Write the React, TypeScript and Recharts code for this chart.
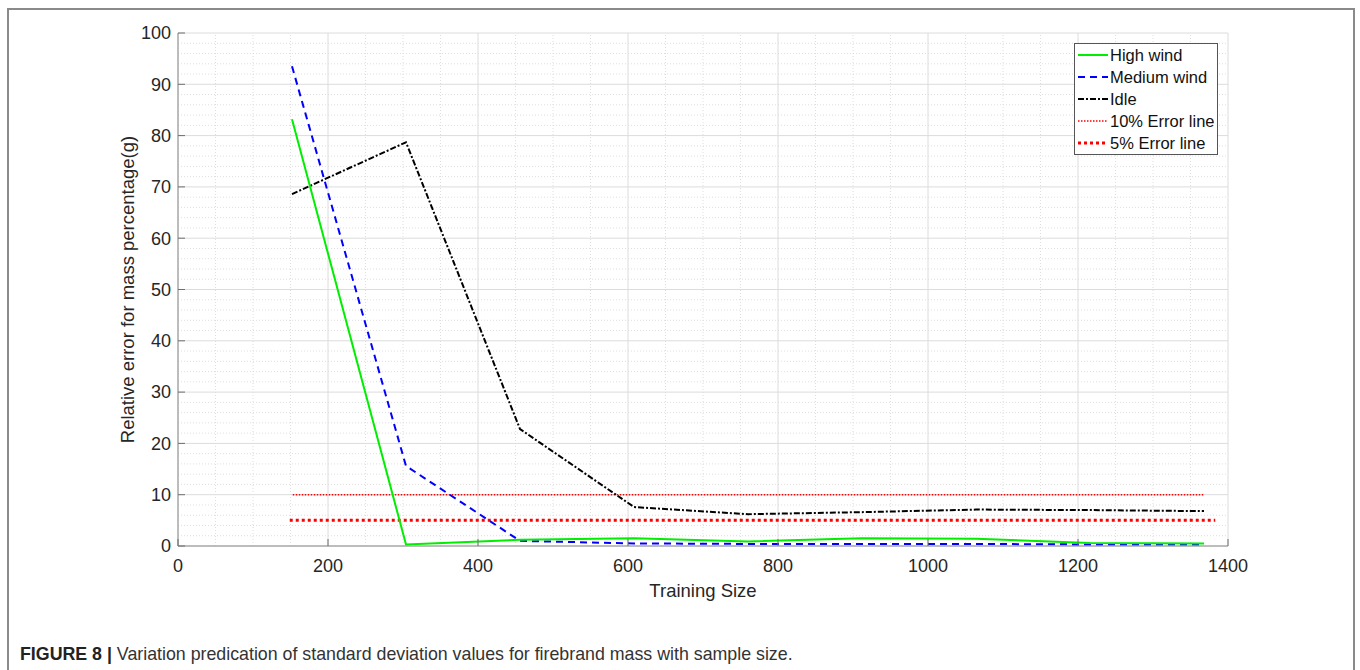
import React from 'react'
import { LineChart, Line, XAxis, YAxis, CartesianGrid, ReferenceLine, Legend } from 'recharts'

// training sizes (x) and relative errors (%)
const trainingSize = [152, 304, 456, 608, 760, 912, 1064, 1216, 1368]
const highWind = [83.2, 0.3, 1.2, 1.5, 0.9, 1.5, 1.4, 0.6, 0.5]
const mediumWind = [93.5, 15.6, 1.0, 0.5, 0.4, 0.4, 0.4, 0.3, 0.3]
const idle = [68.6, 78.7, 22.8, 7.6, 6.2, 6.6, 7.1, 7.0, 6.8]

const tenPctX = [153, 1368]
const tenPctY = [10, 10]
const fivePctX = [149, 1383]
const fivePctY = [5, 5]

const xTicks = [0, 200, 400, 600, 800, 1000, 1200, 1400]
const yTicks = [0, 10, 20, 30, 40, 50, 60, 70, 80, 90, 100]
const minorX = Array.from({ length: 29 }, (_, i) => i * 50).filter((v) => v % 200 !== 0)
const minorY = Array.from({ length: 51 }, (_, i) => i * 2).filter((v) => v % 10 !== 0)

const rows = trainingSize.map((x, i) => ({ x, high: highWind[i], medium: mediumWind[i], idle: idle[i] }))
const tenRows = tenPctX.map((x, i) => ({ x, y: tenPctY[i] }))
const fiveRows = fivePctX.map((x, i) => ({ x, y: fivePctY[i] }))

const series = [
  { name: 'High wind', color: '#00ee00', dash: undefined, width: 2 },
  { name: 'Medium wind', color: '#0000ff', dash: '7 5', width: 2 },
  { name: 'Idle', color: '#000000', dash: '6 2 2 2', width: 2 },
  { name: '10% Error line', color: '#ff0000', dash: '1.5 1.5', width: 1.5 },
  { name: '5% Error line', color: '#ff0000', dash: '3 3', width: 3 },
]

const FONT = '"Liberation Sans", Arial, Helvetica, sans-serif'
const TEXT = '#262626'
const AXIS = '#8c8c8c'
const TICK = '#6e6e6e'

const BottomTick = (p: any) => (
  <g>
    <line x1={p.x} y1={p.y} x2={p.x} y2={p.y - 7} stroke={TICK} />
    <text x={p.x} y={p.y + 25.5} textAnchor="middle" fontSize={18} fill={TEXT} fontFamily={FONT}>
      {p.payload.value}
    </text>
  </g>
)
const LeftTick = (p: any) => (
  <g>
    <line x1={p.x} y1={p.y} x2={p.x + 7} y2={p.y} stroke={TICK} />
    <text x={p.x - 7} y={p.y + 6.3} textAnchor="end" fontSize={18} fill={TEXT} fontFamily={FONT}>
      {p.payload.value}
    </text>
  </g>
)
const TopTick = (p: any) => <line x1={p.x} y1={p.y} x2={p.x} y2={p.y + 7} stroke={TICK} />
const RightTick = (p: any) => <line x1={p.x} y1={p.y} x2={p.x - 7} y2={p.y} stroke={TICK} />

const YLabel = ({ viewBox }: any) => {
  const x = viewBox.x + viewBox.width - 51
  const y = viewBox.y + viewBox.height / 2
  return (
    <text x={x} y={y} transform={`rotate(-90 ${x} ${y})`} textAnchor="middle" dominantBaseline="central"
      fontSize={18.5} fill={TEXT} fontFamily={FONT}>
      Relative error for mass percentage(g)
    </text>
  )
}
const XLabel = ({ viewBox }: any) => (
  <text x={viewBox.x + viewBox.width / 2} y={viewBox.y + 51} textAnchor="middle" fontSize={18.5} fill={TEXT} fontFamily={FONT}>
    Training Size
  </text>
)

const LegendBox = () => (
  <div style={{ border: '1px solid #555', background: '#fff', width: 142, height: 110, fontFamily: FONT, fontSize: 16.5, color: '#111' }}>
    {series.map((s) => (
      <div key={s.name} style={{ display: 'flex', alignItems: 'center', height: 22 }}>
        <svg width={34} height={22}>
          <line x1={3} y1={11} x2={33} y2={11} stroke={s.color} strokeWidth={s.width} strokeDasharray={s.dash} />
        </svg>
        <span style={{ marginLeft: 1, whiteSpace: 'nowrap' }}>{s.name}</span>
      </div>
    ))}
  </div>
)

export default function App() {
  return (
    <div style={{ position: 'absolute', left: 0, top: 0, width: 1360, height: 670, background: '#fff', overflow: 'hidden' }}>
      <div style={{ position: 'absolute', left: 7, top: 8, width: 1348, height: 700, border: '2px solid #8a8a8a', boxSizing: 'border-box' }} />
      <div style={{ position: 'absolute', left: 0, top: 0 }}>
        <LineChart width={1360} height={620} data={rows} margin={{ top: 33, right: 132, bottom: 0, left: 0 }}>
          <CartesianGrid stroke="#dcdcdc" strokeWidth={1} />
          {minorX.map((v) => (
            <ReferenceLine key={'mx' + v} x={v} stroke="#dedede" strokeDasharray="1 2" />
          ))}
          {minorY.map((v) => (
            <ReferenceLine key={'my' + v} y={v} stroke="#dedede" strokeDasharray="1 2" />
          ))}
          <XAxis dataKey="x" type="number" domain={[0, 1400]} ticks={xTicks} allowDataOverflow height={74}
            tickSize={0} tickMargin={0} tickLine={false} axisLine={{ stroke: AXIS }} tick={<BottomTick />}
            interval={0} label={<XLabel />} />
          <XAxis xAxisId="top" orientation="top" dataKey="x" type="number" domain={[0, 1400]} ticks={xTicks} height={0}
            tickSize={0} tickMargin={0} tickLine={false} axisLine={{ stroke: AXIS }} tick={<TopTick />} interval={0} />
          <YAxis type="number" domain={[0, 100]} ticks={yTicks} width={178} tickSize={0} tickMargin={0}
            tickLine={false} axisLine={{ stroke: AXIS }} tick={<LeftTick />} interval={0} label={<YLabel />} />
          <YAxis yAxisId="right" orientation="right" type="number" domain={[0, 100]} ticks={yTicks} width={0}
            tickSize={0} tickMargin={0} tickLine={false} axisLine={{ stroke: AXIS }} tick={<RightTick />} interval={0} />
          <Line data={tenRows} dataKey="y" name={series[3].name} stroke={series[3].color} strokeWidth={series[3].width}
            strokeDasharray={series[3].dash} dot={false} activeDot={false} isAnimationActive={false} />
          <Line data={fiveRows} dataKey="y" name={series[4].name} stroke={series[4].color} strokeWidth={series[4].width}
            strokeDasharray={series[4].dash} dot={false} activeDot={false} isAnimationActive={false} />
          <Line type="linear" dataKey="idle" name={series[2].name} stroke={series[2].color} strokeWidth={series[2].width}
            strokeDasharray={series[2].dash} dot={false} activeDot={false} isAnimationActive={false} />
          <Line type="linear" dataKey="medium" name={series[1].name} stroke={series[1].color} strokeWidth={series[1].width}
            strokeDasharray={series[1].dash} dot={false} activeDot={false} isAnimationActive={false} />
          <Line type="linear" dataKey="high" name={series[0].name} stroke={series[0].color} strokeWidth={series[0].width}
            dot={false} activeDot={false} isAnimationActive={false} />
          <Legend layout="vertical" align="center" verticalAlign="middle" content={<LegendBox />}
            wrapperStyle={{ left: 1074, top: 43, width: 144, height: 112 }} />
        </LineChart>
      </div>
      <div style={{ position: 'absolute', left: 20, top: 644, fontFamily: FONT, fontSize: 17.8, color: '#333', whiteSpace: 'nowrap' }}>
        <b style={{ color: '#222' }}>FIGURE 8 |</b> Variation predication of standard deviation values for firebrand mass with sample size.
      </div>
    </div>
  )
}
